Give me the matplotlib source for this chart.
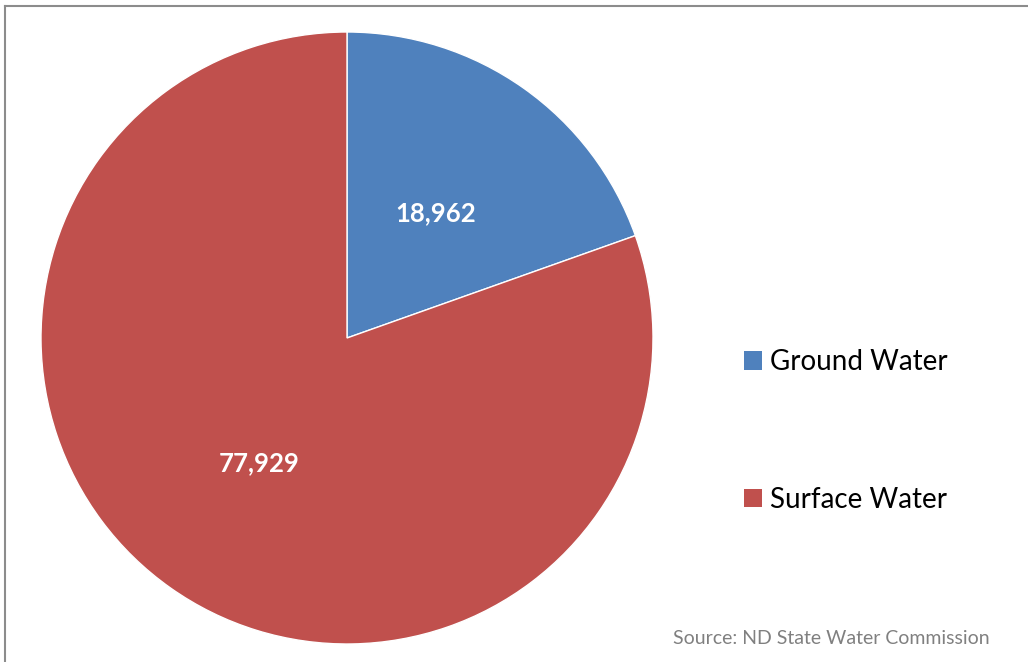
import matplotlib.pyplot as plt
from matplotlib.patches import Patch
from matplotlib.lines import Line2D

plt.rcParams['font.family'] = ['Lato', 'DejaVu Sans']

labels = ['Ground Water', 'Surface Water']
values = [18962, 77929]
colors = ['#4f81bd', '#c0504d']

W, H = 1028, 662
fig = plt.figure(figsize=(W / 100, H / 100), dpi=100)

# grey frame (top and left edges visible in the reference)
fig.add_artist(Line2D([5 / W, 1], [1 - 6 / H, 1 - 6 / H], color='#8c8c8c', lw=1.5))
fig.add_artist(Line2D([5 / W, 5 / W], [0, 1 - 6 / H], color='#8c8c8c', lw=1.5))

# pie area in pixel terms: centre (347, 338), radius 306
cx, cy, r = 347, 338, 306
ax = fig.add_axes([(cx - r) / W, (H - cy - r) / H, 2 * r / W, 2 * r / H])
wedges, texts, autotexts = ax.pie(
    values, colors=colors, startangle=90, counterclock=False, radius=1,
    autopct=lambda p: '{:,}'.format(int(round(p * sum(values) / 100))),
    pctdistance=0.5, wedgeprops=dict(edgecolor='white', linewidth=1))
for t in autotexts:
    t.set_color('white')
    t.set_fontsize(18.5)
    t.set_fontweight('bold')
ax.set_xlim(-1, 1)
ax.set_ylim(-1, 1)
ax.set_aspect('equal')
ax.axis('off')

handles = [Patch(facecolor=c, edgecolor='none') for c in colors]
fig.legend(handles, labels, loc='center left', bbox_to_anchor=(733 / W, 1 - 431 / H),
           frameon=False, fontsize=20, labelspacing=4.0, handlelength=0.65,
           handleheight=0.65, handletextpad=0.3, borderaxespad=0)

fig.text(990 / W, 1 - 638 / H, 'Source: ND State Water Commission', color='#808080',
         fontsize=14, ha='right', va='center')

fig.savefig('out.png', dpi=100)
